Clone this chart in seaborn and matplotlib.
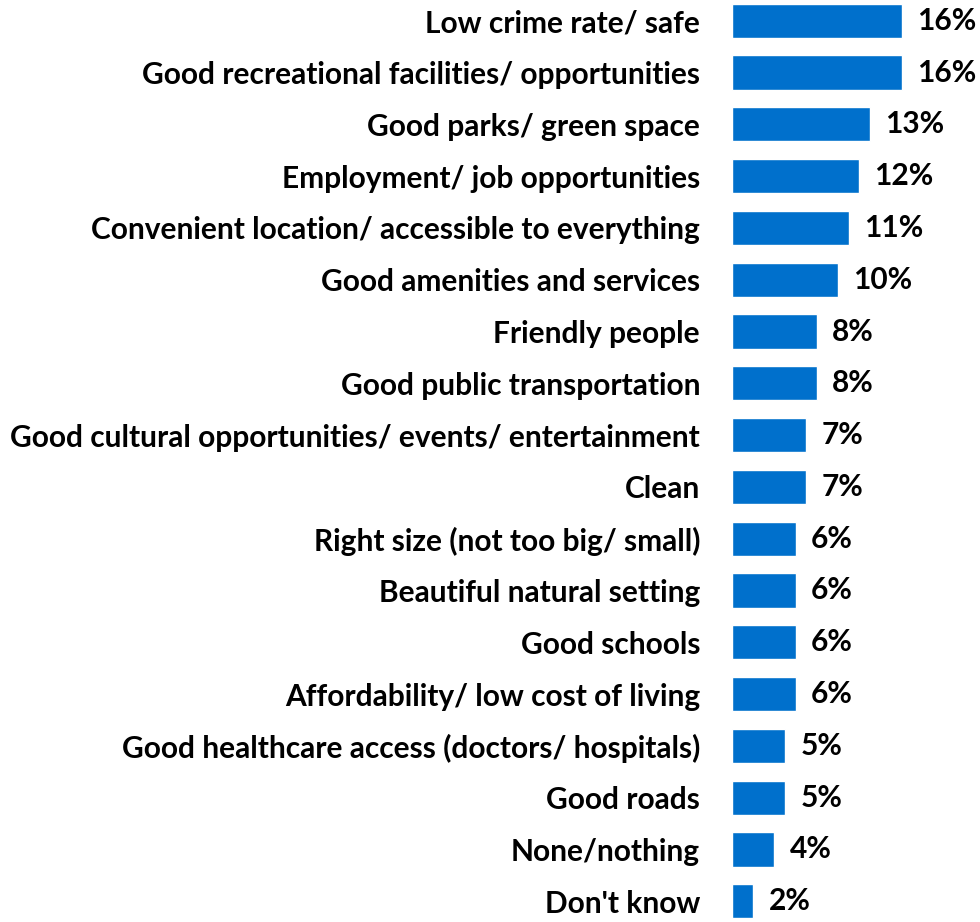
import matplotlib
matplotlib.use("Agg")
import matplotlib.pyplot as plt
import seaborn as sns
import pandas as pd

categories = [
    "Low crime rate/ safe",
    "Good recreational facilities/ opportunities",
    "Good parks/ green space",
    "Employment/ job opportunities",
    "Convenient location/ accessible to everything",
    "Good amenities and services",
    "Friendly people",
    "Good public transportation",
    "Good cultural opportunities/ events/ entertainment",
    "Clean",
    "Right size (not too big/ small)",
    "Beautiful natural setting",
    "Good schools",
    "Affordability/ low cost of living",
    "Good healthcare access (doctors/ hospitals)",
    "Good roads",
    "None/nothing",
    "Don't know",
]
values = [16, 16, 13, 12, 11, 10, 8, 8, 7, 7, 6, 6, 6, 6, 5, 5, 4, 2]

df = pd.DataFrame({"category": categories, "value": values})

sns.set_theme(style="white")
plt.rcParams["font.family"] = ["Lato", "DejaVu Sans"]

fig = plt.figure(figsize=(9.8, 9.22), dpi=100)
ax = fig.add_axes([0.747, 0.0, 0.253, 1.0])

sns.barplot(data=df, x="value", y="category", color="#0070CC",
            saturation=1, width=0.66, ax=ax)

ax.set_xlim(0, 23.4)
ax.set_ylim(len(categories) - 0.6, -0.4)
ax.set_xlabel("")
ax.set_ylabel("")
ax.set_xticks([])
for s in ax.spines.values():
    s.set_visible(False)
ax.tick_params(axis="y", length=0, pad=23)
for lab in ax.get_yticklabels():
    lab.set_fontsize(21.5)
    lab.set_fontweight("bold")
    lab.set_color("black")

for cont in ax.containers:
    ax.bar_label(cont, labels=[f"{v}%" for v in values], padding=11,
                 fontsize=21.5, fontweight="bold", color="black")

fig.savefig("out.png", dpi=100)
